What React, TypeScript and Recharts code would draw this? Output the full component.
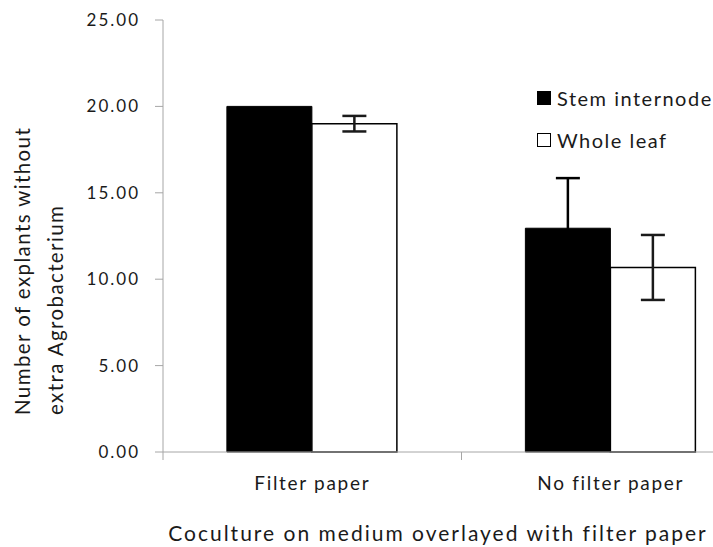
import { BarChart, Bar, XAxis, YAxis, ErrorBar, Legend } from 'recharts'

const categories = ['Filter paper', 'No filter paper']
const stemInternode = [20.0, 12.95]
const stemInternodeErr = [null, 2.9]
const wholeLeaf = [19.0, 10.68]
const wholeLeafErr = [0.45, 1.88]
const yTicks = [0, 5, 10, 15, 20, 25]

const data = categories.map((category, i) => ({
  category,
  stem: stemInternode[i],
  stemErr: stemInternodeErr[i],
  leaf: wholeLeaf[i],
  leafErr: wholeLeafErr[i],
}))

const font = 'Lato, "Open Sans", sans-serif'
const axisGray = '#a6a6a6'
const textColor = '#1a1a1a'

function CategoryTick(props: any) {
  const { x, y, payload, index } = props
  const off = payload?.offset ?? 149
  const axisY = y - 10
  return (
    <g>
      <line x1={x - off} x2={x - off} y1={axisY} y2={axisY + 8} stroke={axisGray} />
      {index === categories.length - 1 && (
        <line x1={x + off} x2={x + off} y1={axisY} y2={axisY + 8} stroke={axisGray} />
      )}
      <text
        x={x}
        y={y + 28}
        textAnchor="middle"
        fill={textColor}
        fontSize={19}
        fontFamily={font}
        letterSpacing={1.7}
      >
        {payload.value}
      </text>
    </g>
  )
}

function LegendBox({ payload }: any) {
  return (
    <div style={{ fontFamily: font, fontSize: 20, color: textColor, letterSpacing: 1.5 }}>
      {(payload || []).map((entry: any, i: number) => (
        <div
          key={entry.value}
          style={{ display: 'flex', alignItems: 'center', height: 14, marginBottom: i === 0 ? 28 : 0 }}
        >
          <span
            style={{
              display: 'inline-block',
              width: 12,
              height: 12,
              background: entry.payload?.fill ?? entry.color,
              border: '1px solid #000',
              marginRight: 6,
            }}
          />
          <span>{entry.value}</span>
        </div>
      ))}
    </div>
  )
}

export default function App() {
  return (
    <div
      style={{
        position: 'absolute',
        left: 0,
        top: 0,
        width: 713,
        height: 547,
        overflow: 'hidden',
        background: '#fff',
      }}
    >
      <BarChart
        width={780}
        height={547}
        data={data}
        margin={{ top: 20, right: 20, bottom: 35, left: 0 }}
        barCategoryGap="21.4%"
        barGap={0}
      >
        <XAxis
          dataKey="category"
          height={60}
          interval={0}
          tickLine={false}
          tickSize={8}
          axisLine={{ stroke: axisGray }}
          tick={<CategoryTick />}
          label={{
            content: () => (
              <text
                x={438}
                y={541}
                textAnchor="middle"
                fill={textColor}
                fontSize={21}
                fontFamily={font}
                letterSpacing={2}
              >
                Coculture on medium overlayed with filter paper
              </text>
            ),
          }}
        />
        <YAxis
          type="number"
          domain={[0, 25]}
          ticks={yTicks}
          interval={0}
          width={163}
          tickSize={8}
          tickMargin={15}
          tickFormatter={(v: number) => v.toFixed(2)}
          axisLine={{ stroke: axisGray }}
          tickLine={{ stroke: axisGray }}
          tick={{ fill: textColor, fontSize: 17, fontFamily: font, letterSpacing: 2 }}
          label={{
            content: () => (
              <g fontFamily={font} fontSize={20.5} fill={textColor} letterSpacing={1.4}>
                <text x={30} y={415} transform="rotate(-90 30 415)" textAnchor="start">
                  Number of explants without
                </text>
                <text x={63} y={415} transform="rotate(-90 63 415)" textAnchor="start">
                  extra Agrobacterium
                </text>
              </g>
            ),
          }}
        />
        <Legend
          layout="vertical"
          verticalAlign="middle"
          align="center"
          content={<LegendBox />}
          wrapperStyle={{ left: 537, top: 91, width: 200 }}
        />
        <Bar
          dataKey="stem"
          name="Stem internode"
          fill="#000"
          stroke="#000"
          strokeWidth={1}
          isAnimationActive={false}
        >
          <ErrorBar dataKey="stemErr" width={12} stroke="#000" strokeWidth={2.5} direction="y" />
        </Bar>
        <Bar
          dataKey="leaf"
          name="Whole leaf"
          fill="#fff"
          stroke="#000"
          strokeWidth={1.5}
          isAnimationActive={false}
        >
          <ErrorBar dataKey="leafErr" width={12} stroke="#1a1a1a" strokeWidth={2.5} direction="y" />
        </Bar>
      </BarChart>
    </div>
  )
}
